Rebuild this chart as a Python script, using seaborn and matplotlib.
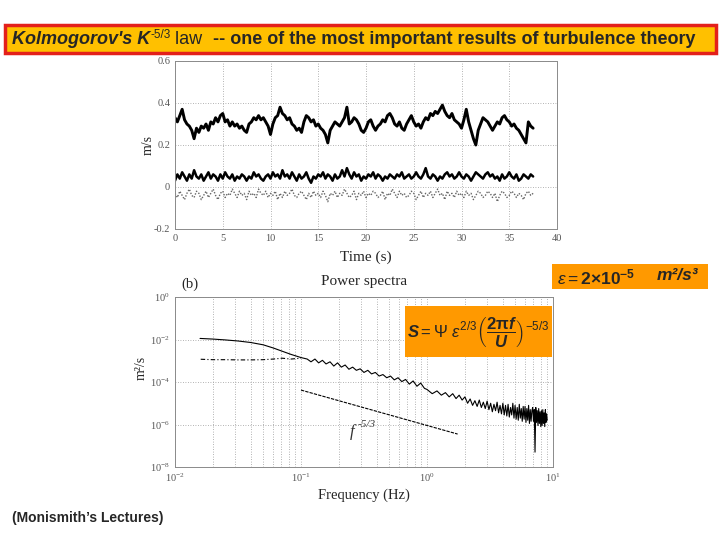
import numpy as np
import pandas as pd
import matplotlib
matplotlib.use("Agg")
import matplotlib.pyplot as plt
import matplotlib.patches as mpatches
from matplotlib.ticker import LogLocator, NullFormatter, FixedLocator
import seaborn as sns

# ========================
# DATA
# ========================

# (a) velocity records, one sample every 0.25 s from 0 to 37.5 s
time_step = 0.25
u_top = [
    0.33, 0.31, 0.34, 0.37, 0.32, 0.30, 0.29, 0.27, 0.23, 0.28, 0.26, 0.29, 0.28, 0.30, 0.27, 0.31, 0.30, 0.33, 0.31, 0.34,
    0.35, 0.31, 0.32, 0.29, 0.31, 0.29, 0.30, 0.28, 0.29, 0.27, 0.26, 0.30, 0.31, 0.33, 0.32, 0.34, 0.32, 0.33, 0.31, 0.29,
    0.25, 0.30, 0.33, 0.34, 0.38, 0.35, 0.34, 0.32, 0.33, 0.30, 0.29, 0.27, 0.28, 0.26, 0.31, 0.34, 0.33, 0.31, 0.32, 0.29,
    0.30, 0.28, 0.27, 0.25, 0.21, 0.27, 0.29, 0.31, 0.30, 0.29, 0.31, 0.33, 0.38, 0.30, 0.31, 0.33, 0.32, 0.30, 0.27, 0.26,
    0.28, 0.31, 0.32, 0.29, 0.27, 0.29, 0.30, 0.32, 0.31, 0.34, 0.35, 0.33, 0.30, 0.29, 0.31, 0.28, 0.27, 0.30, 0.32, 0.34,
    0.31, 0.29, 0.30, 0.28, 0.31, 0.33, 0.32, 0.35, 0.34, 0.36, 0.35, 0.37, 0.39, 0.36, 0.34, 0.33, 0.35, 0.32, 0.31, 0.30,
    0.28, 0.32, 0.37, 0.31, 0.27, 0.23, 0.20, 0.27, 0.30, 0.33, 0.32, 0.31, 0.29, 0.27, 0.29, 0.31, 0.30, 0.33, 0.34, 0.32,
    0.31, 0.29, 0.30, 0.28, 0.27, 0.25, 0.23, 0.21, 0.31, 0.29, 0.28,
]
v_mid = [
    0.03, 0.06, 0.04, 0.07, 0.05, 0.03, 0.06, 0.04, 0.08, 0.05, 0.04, 0.06, 0.03, 0.05, 0.07, 0.04, 0.06, 0.05, 0.03, 0.06,
    0.04, 0.07, 0.05, 0.04, 0.06, 0.03, 0.05, 0.04, 0.06, 0.05, 0.03, 0.05, 0.04, 0.07, 0.05, 0.06, 0.04, 0.03, 0.05, 0.06,
    0.04, 0.07, 0.05, 0.06, 0.04, 0.08, 0.05, 0.06, 0.04, 0.07, 0.05, 0.03, 0.06, 0.04, 0.05, 0.07, 0.04, 0.02, 0.05, 0.04,
    0.06, 0.05, 0.07, 0.04, 0.06, 0.05, 0.03, 0.06, 0.04, 0.05, 0.08, 0.05, 0.09, 0.06, 0.04, 0.07, 0.05, 0.06, 0.03, 0.05,
    0.04, 0.06, 0.05, 0.07, 0.04, 0.06, 0.05, 0.03, 0.05, 0.04, 0.06, 0.05, 0.04, 0.06, 0.05, 0.07, 0.04, 0.05, 0.06, 0.04,
    0.05, 0.07, 0.05, 0.04, 0.06, 0.09, 0.05, 0.04, 0.06, 0.05, 0.03, 0.05, 0.04, 0.06, 0.07, 0.05, 0.06, 0.04, 0.05, 0.07,
    0.05, 0.04, 0.06, 0.05, 0.03, 0.05, 0.07, 0.06, 0.05, 0.04, 0.06, 0.07, 0.05, 0.06, 0.04, 0.05, 0.03, 0.06, 0.04, 0.05,
    0.07, 0.05, 0.04, 0.06, 0.03, 0.04, 0.06, 0.05, 0.04, 0.06, 0.05,
]
w_low = [
    -0.03, -0.05, -0.02, -0.04, -0.06, -0.03, -0.01, -0.04, -0.05, -0.02, -0.03, -0.06, -0.04, -0.02, -0.05, -0.03, -0.01, -0.04, -0.06, -0.03,
    -0.02, -0.05, -0.03, -0.04, -0.01, -0.03, -0.05, -0.02, -0.04, -0.03, -0.06, -0.02, -0.04, -0.03, -0.05, -0.01, -0.03, -0.04, -0.02, -0.05,
    -0.03, -0.04, -0.02, -0.06, -0.03, -0.05, -0.02, -0.04, -0.03, -0.01, -0.04, -0.05, -0.03, -0.02, -0.04, -0.06, -0.03, -0.05, -0.02, -0.04,
    -0.03, -0.05, -0.02, -0.04, -0.07, -0.03, -0.04, -0.02, -0.05, -0.03, -0.04, -0.01, -0.03, -0.05, -0.04, -0.02, -0.06, -0.03, -0.04, -0.02,
    -0.05, -0.03, -0.04, -0.02, -0.03, -0.05, -0.04, -0.02, -0.06, -0.03, -0.04, -0.01, -0.03, -0.05, -0.02, -0.04, -0.03, -0.05, -0.04, -0.02,
    -0.03, -0.06, -0.04, -0.02, -0.05, -0.03, -0.04, -0.02, -0.05, -0.03, -0.01, -0.04, -0.03, -0.06, -0.02, -0.04, -0.03, -0.05, -0.02, -0.04,
    -0.03, -0.05, -0.02, -0.04, -0.03, -0.06, -0.04, -0.02, -0.03, -0.05, -0.04, -0.02, -0.03, -0.05, -0.03, -0.07, -0.04, -0.02, -0.03, -0.05,
    -0.04, -0.02, -0.03, -0.05, -0.03, -0.04, -0.06, -0.03, -0.02, -0.04, -0.03,
]

# (b) spectra, stored as log10 of m^2/s
spec_f_low = [0.0158, 0.0200, 0.0251, 0.0316, 0.0398, 0.0501, 0.0603, 0.0708, 0.0832, 0.100,
              0.112, 0.120, 0.129, 0.138, 0.148, 0.158, 0.170, 0.182, 0.195, 0.209,
              0.224, 0.240, 0.257, 0.275, 0.295, 0.316, 0.339, 0.363, 0.389, 0.417,
              0.447, 0.479, 0.513, 0.550, 0.589, 0.631, 0.676, 0.724, 0.776, 0.832,
              0.891, 0.955]
spec_log_low = [-1.95, -1.98, -2.02, -2.07, -2.14, -2.25, -2.40, -2.55, -2.70, -2.85,
                -2.92, -3.05, -2.92, -3.10, -2.98, -3.15, -3.05, -3.25, -3.10, -3.30,
                -3.20, -3.40, -3.30, -3.45, -3.38, -3.55, -3.45, -3.62, -3.55, -3.72,
                -3.65, -3.80, -3.72, -3.90, -3.80, -3.98, -3.88, -4.10, -3.95, -4.20,
                -4.05, -4.30]
# 1.0 ... 9.0 Hz, every 0.1 Hz
spec_f_step = 0.1
spec_log_high = [
    -4.35, -4.55, -4.42, -4.62, -4.50, -4.70, -4.55, -4.78, -4.62, -4.85,
    -4.70, -5.00, -4.80, -5.10, -4.88, -5.15, -4.85, -5.20, -4.95, -5.25,
    -4.90, -5.30, -5.00, -5.40, -5.05, -5.35, -4.95, -5.45, -5.10, -5.50,
    -5.00, -5.55, -5.10, -5.60, -5.05, -5.65, -5.20, -5.55, -5.00, -5.70,
    -5.10, -5.75, -5.20, -5.80, -5.05, -5.70, -5.25, -5.85, -5.15, -5.75,
    -5.15, -5.90, -5.25, -5.80, -5.10, -5.95, -5.30, -5.85, -5.35, -5.20,
    -5.85, -5.30, -7.30, -5.20, -5.90, -5.35, -6.05, -5.25, -5.95, -5.40,
    -6.10, -5.35, -6.05, -5.30, -5.95, -5.45, -6.10, -5.30, -5.90, -5.50,
    -5.80,
]
cross_f = [0.0160, 0.0200, 0.0251, 0.0316, 0.0398, 0.0501, 0.0603, 0.0708, 0.0832, 0.100]
cross_log = [-2.93, -2.95, -2.95, -2.96, -2.96, -2.95, -2.92, -2.88, -2.92, -2.88]
ref_f = [0.1, 1.75]
ref_log = [-4.38, -6.45]

# ========================
# BUILD TABLES
# ========================
time = np.arange(len(u_top)) * time_step
df_ts = pd.DataFrame({"t": time, "u": u_top, "v": v_mid, "w": w_low})

f_high = 1.0 + np.arange(len(spec_log_high)) * spec_f_step
df_spec = pd.DataFrame({"f": list(spec_f_low) + list(f_high),
                        "S": 10.0 ** np.array(spec_log_low + spec_log_high)})
df_cross = pd.DataFrame({"f": cross_f, "S": 10.0 ** np.array(cross_log)})
df_ref = pd.DataFrame({"f": ref_f, "S": 10.0 ** np.array(ref_log)})

# ========================
# STYLE
# ========================
sns.set_style("white")
plt.rcParams["font.family"] = ["Liberation Serif", "DejaVu Serif"]
plt.rcParams["mathtext.fontset"] = "custom"
plt.rcParams["mathtext.rm"] = "Liberation Sans"
plt.rcParams["mathtext.it"] = "Liberation Sans:italic"
plt.rcParams["mathtext.bf"] = "Liberation Sans:bold"
plt.rcParams["mathtext.bfit"] = "Liberation Sans:bold:italic"

W, H = 720, 540
fig = plt.figure(figsize=(7.2, 5.4), dpi=100)
fig.patch.set_facecolor("white")


def px(x, y):
    return x / W, 1 - y / H


tick_grey = "#555555"
grid_kw = dict(color="#9a9a9a", linestyle=(0, (1, 2)), linewidth=0.6)


def style_axes(ax):
    for sp in ax.spines.values():
        sp.set_color("#8a8a8a")
        sp.set_linewidth(0.7)
        sp.set_linestyle((0, (2, 1)))
    ax.tick_params(direction="in", labelsize=7.5, labelcolor=tick_grey,
                   color="#777777", length=3, width=0.5)
    ax.tick_params(which="minor", direction="in", length=1.5, width=0.4, color="#777777")


# ========================
# (a) TIME SERIES
# ========================
ax1 = fig.add_axes([175 / W, 1 - 229 / H, 382 / W, 168 / H])
sns.lineplot(data=df_ts, x="t", y="w", ax=ax1, color="#666666", linewidth=1.0,
             linestyle=(0, (1, 1.2)))
sns.lineplot(data=df_ts, x="t", y="v", ax=ax1, color="black", linewidth=1.8)
sns.lineplot(data=df_ts, x="t", y="u", ax=ax1, color="black", linewidth=2.1)
ax1.set_xlim(0, 40)
ax1.set_ylim(-0.2, 0.6)
ax1.set_xticks(range(0, 41, 5))
ax1.set_yticks([-0.2, 0, 0.2, 0.4, 0.6])
ax1.set_yticklabels(["-0.2", "0", "0.2", "0.4", "0.6"])
ax1.grid(True, **grid_kw)
style_axes(ax1)
ax1.set_xlabel("Time (s)", fontsize=11)
ax1.xaxis.set_label_coords(0.50, -0.13)
ax1.set_ylabel("m/s", fontsize=10)
ax1.yaxis.set_label_coords(-0.053, 0.50)

# ========================
# (b) POWER SPECTRA
# ========================
ax2 = fig.add_axes([175 / W, 1 - 467 / H, 378 / W, 170 / H])
sns.lineplot(data=df_cross, x="f", y="S", ax=ax2, color="black", linewidth=0.8,
             linestyle=(0, (4, 2, 1, 2)))
sns.lineplot(data=df_ref, x="f", y="S", ax=ax2, color="black", linewidth=0.8,
             linestyle=(0, (3, 1)))
sns.lineplot(data=df_spec, x="f", y="S", ax=ax2, color="black", linewidth=0.8)
ax2.set_xscale("log")
ax2.set_yscale("log")
ax2.set_xlim(1e-2, 1e1)
ax2.set_ylim(1e-8, 1e0)
ax2.yaxis.set_major_locator(FixedLocator([1e-8, 1e-6, 1e-4, 1e-2, 1e0]))
ax2.yaxis.set_minor_locator(FixedLocator([]))
ax2.xaxis.set_minor_locator(LogLocator(base=10, subs=np.arange(2, 10)))
ax2.xaxis.set_minor_formatter(NullFormatter())
ax2.grid(True, which="major", **grid_kw)
ax2.grid(True, which="minor", axis="x", **grid_kw)
style_axes(ax2)
ax2.set_xlabel("Frequency (Hz)", fontsize=10.5)
ax2.xaxis.set_label_coords(0.50, -0.125)
ax2.set_ylabel("m²/s", fontsize=10)
ax2.yaxis.set_label_coords(-0.072, 0.58)
ax2.text(0.5, 1.094, "Power spectra", transform=ax2.transAxes, ha="center",
         va="center", fontsize=11)
ax2.text(0.04, 1.076, "(b)", transform=ax2.transAxes, ha="center",
         va="center", fontsize=10.5)
ax2.text(0.245, 10 ** -6.35, "f", ha="left", va="center",
         fontsize=12, fontstyle="italic", color="#333333")
ax2.text(0.28, 10 ** -6.0, "-5/3", ha="left", va="center",
         fontsize=8, fontstyle="italic", color="#333333")

# ========================
# SLIDE DECORATION
# ========================
fig.add_artist(mpatches.Rectangle(px(5, 53), 711 / W, 28 / H, transform=fig.transFigure,
                                  facecolor="#FFC000", edgecolor="#E3201B", linewidth=2.5))

renderer = fig.canvas.get_renderer()


def run_text(x0, y, pieces):
    # place text pieces one after another, left to right
    x = x0
    for txt, kw in pieces:
        dy = kw.pop("dy", 0)
        t = fig.text(*px(x, y - dy), txt, ha="left", va="center", **kw)
        x += t.get_window_extent(renderer).width


sans = "Liberation Sans"
run_text(12, 39, [
    ("Kolmogorov's K", dict(fontfamily=sans, fontweight="bold", fontstyle="italic", fontsize=13)),
    ("-5/3", dict(fontfamily=sans, fontsize=8.5, dy=4)),
    (" law  ", dict(fontfamily=sans, fontsize=13)),
    ("-- one of the most important results of turbulence theory",
     dict(fontfamily=sans, fontweight="bold", fontsize=13)),
])

# epsilon box
fig.add_artist(mpatches.Rectangle(px(552, 289), 156 / W, 25 / H, transform=fig.transFigure,
                                  facecolor="#FF9900", edgecolor="none"))
fig.text(*px(557, 277), r"$\varepsilon = \mathbf{2{\times}10^{-5}}$", ha="left", va="center",
         fontsize=12.5, fontfamily=sans)
fig.text(*px(657, 276), "m²/s³", ha="left", va="center", fontsize=12.5,
         fontfamily=sans, fontweight="bold", fontstyle="italic")

# formula box
fig.add_artist(mpatches.Rectangle(px(405, 357), 147 / W, 51 / H, transform=fig.transFigure,
                                  facecolor="#FF9900", edgecolor="none"))
fig.text(*px(478, 332),
         r"$\mathbfit{S} = \mathit{\Psi}\ \varepsilon^{2/3}\left(\dfrac{\mathbf{2\pi}\mathbfit{f}}{\mathbfit{U}}\right)^{-5/3}$",
         ha="center", va="center", fontsize=12, fontfamily=sans)

fig.text(*px(12, 518), "(Monismith’s Lectures)", ha="left", va="center",
         fontsize=10, fontfamily=sans, fontweight="bold")

fig.savefig("out.png", dpi=100, facecolor="white")
